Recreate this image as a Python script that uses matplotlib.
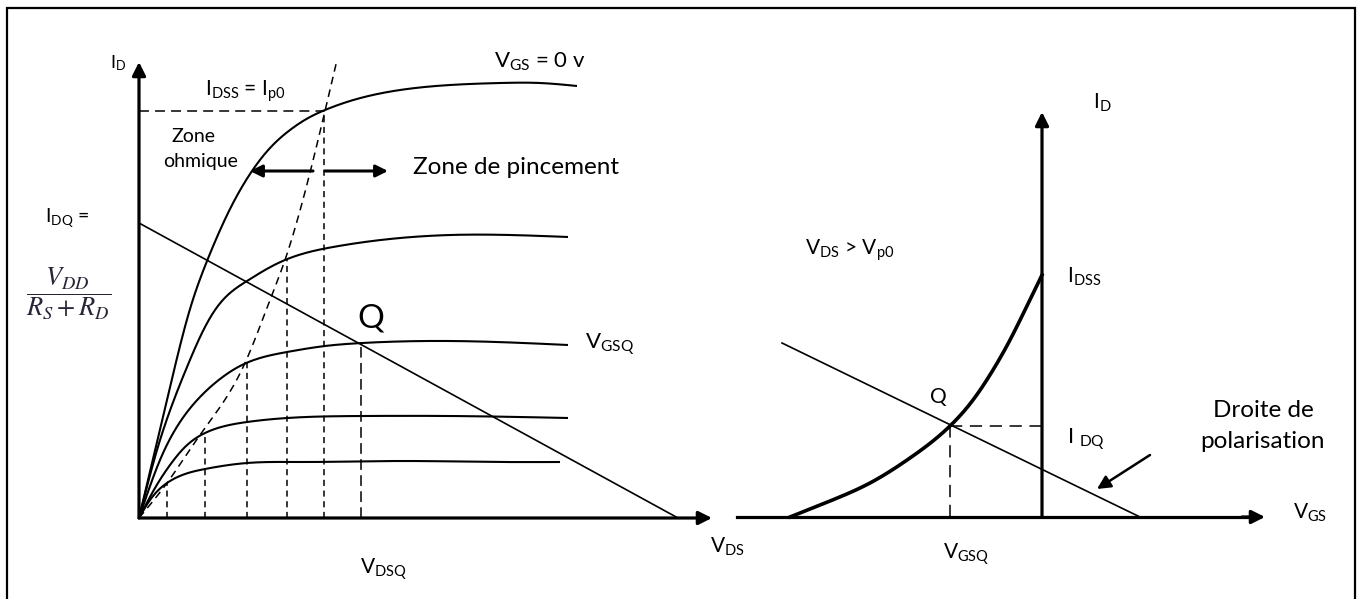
import numpy as np
import matplotlib
matplotlib.use("Agg")
import matplotlib.pyplot as plt
from matplotlib.patches import Rectangle

plt.rcParams['font.family'] = ['Lato', 'DejaVu Sans']
plt.rcParams['mathtext.fontset'] = 'custom'
plt.rcParams['mathtext.rm'] = 'Lato'
plt.rcParams['mathtext.it'] = 'Lato:italic'
plt.rcParams['mathtext.bf'] = 'Lato:bold'

# ---- output characteristics I_D(V_DS), one curve per V_GS (arbitrary units)
vds_c1 = [0, 2.8, 5.1, 6.8, 9.1, 11.3, 13.1, 15.1, 17.1, 18.6, 21.1, 26.1, 31.1,
          36.1, 40.1, 43.8]
id_c1 = [0, 11.8, 20.9, 25.7, 30.9, 34.7, 37.0, 38.8, 40.1, 40.8, 41.7, 42.8, 43.3,
         43.5, 43.5, 43.2]
vds_c2 = [0, 1.8, 3.3, 4.8, 6.2, 7.6, 9.1, 10.8, 12.6, 14.6, 19.4, 26.1, 31.1, 37.1, 42.9]
id_c2 = [0, 6.8, 11.3, 15.1, 18.3, 20.8, 22.5, 23.7, 24.8, 25.8, 27.1, 28.0, 28.3, 28.3, 28.1]
vds_c3 = [0, 2.1, 4.1, 6.1, 8.1, 10.1, 14.8, 18.6, 22.3, 31.1, 42.9]
id_c3 = [0, 5.8, 9.6, 12.1, 13.9, 15.2, 16.6, 17.2, 17.5, 17.7, 17.3]
vds_c4 = [0, 1.6, 3.1, 4.6, 6.6, 8.6, 10.8, 14.8, 22.3, 31.1, 42.9]
id_c4 = [0, 3.0, 5.3, 7.1, 8.5, 9.2, 9.6, 10.0, 10.2, 10.2, 10.0]
vds_c5 = [0, 1.1, 2.8, 4.6, 6.6, 10.8, 16.1, 26.1, 36.1, 42.1]
id_c5 = [0, 1.8, 3.5, 4.4, 4.9, 5.5, 5.6, 5.7, 5.6, 5.6]

# pinch-off locus V_DS = V_GS - V_p
vds_pinch = [0, 2.8, 6.1, 10.6, 13.1, 14.6, 18.6, 19.8]
id_pinch = [0, 3.5, 8.3, 15.5, 21.8, 25.8, 40.7, 45.8]

# drop lines from each knee and from Q
vds_knee = [2.8, 6.6, 10.8, 14.8, 18.5]
id_knee = [3.5, 8.5, 15.5, 25.8, 40.7]
vdsq, idq = 22.2, 17.5
idss = 40.7

# load line: I_D = V_DD/(R_S+R_D) at V_DS = 0, V_DS = V_DD at I_D = 0
load_vds = [0, 53.9]
load_id = [29.5, 0]

# ---- transfer characteristic I_D(V_GS)
vgs_tr = [-25.2, -21.2, -17.2, -13.2, -9.2, -6.9, -4.9, -3.2, -1.7, 0]
id_tr = [0, 1.6, 3.4, 5.9, 9.1, 11.7, 14.7, 17.7, 20.7, 24.2]
bias_vgs = [-26.0, 9.8]
bias_id = [17.4, 0]
vgsq, idq_r = -9.2, 9.1


def smooth(x, y, n=400):
    # natural cubic spline through the points, used only to draw the line
    x = np.asarray(x, float)
    y = np.asarray(y, float)
    N = len(x)
    h = np.diff(x)
    A = np.zeros((N, N))
    r = np.zeros(N)
    A[0, 0] = A[-1, -1] = 1
    for i in range(1, N - 1):
        A[i, i - 1] = h[i - 1]
        A[i, i] = 2 * (h[i - 1] + h[i])
        A[i, i + 1] = h[i]
        r[i] = 6 * ((y[i + 1] - y[i]) / h[i] - (y[i] - y[i - 1]) / h[i - 1])
    M = np.linalg.solve(A, r)
    xs = np.linspace(x[0], x[-1], n)
    k = np.clip(np.searchsorted(x, xs, 'right') - 1, 0, N - 2)
    hk = h[k]
    a = x[k + 1] - xs
    b = xs - x[k]
    ys = (M[k] * a ** 3 + M[k + 1] * b ** 3) / (6 * hk) \
        + (y[k] / hk - M[k] * hk / 6) * a + (y[k + 1] / hk - M[k + 1] * hk / 6) * b
    return xs, ys


def arrow(ax, start, tip, lw=2.2, ms=20):
    ax.annotate('', xy=tip, xytext=start,
                arrowprops=dict(arrowstyle='-|>', lw=lw, color='black',
                                mutation_scale=ms, shrinkA=0, shrinkB=0))


fig = plt.figure(figsize=(13.63, 5.99), dpi=100)
fig.patch.set_facecolor('white')

axl = fig.add_axes([0, 0, 1, 1])
axl.set_xlim(-13.9, 122.4)
axl.set_ylim(-8.1, 51.8)
axl.axis('off')

axr = fig.add_axes([0, 0, 1, 1])
axr.set_xlim(-104.2, 32.1)
axr.set_ylim(-8.2, 51.7)
axr.axis('off')
axr.patch.set_alpha(0)

fig.add_artist(Rectangle((7 / 1363, -0.05), 1348 / 1363, 1.05 - 8 / 599,
                         transform=fig.transFigure, fill=False, lw=1.6,
                         edgecolor='black'))

# ---------- left: output characteristics
arrow(axl, (0, 0), (57.3, 0), lw=2.3)
arrow(axl, (0, 0), (0, 45.6), lw=2.3)

for xs, ys in [(vds_c1, id_c1), (vds_c2, id_c2), (vds_c3, id_c3),
               (vds_c4, id_c4), (vds_c5, id_c5)]:
    sx, sy = smooth(xs, ys)
    axl.plot(sx, sy, color='black', lw=1.5, solid_capstyle='butt')

px, py = smooth(vds_pinch, id_pinch)
axl.plot(px, py, color='black', lw=1.1, ls=(0, (5, 3.5)))

for x, y in zip(vds_knee, id_knee):
    axl.plot([x, x], [0, y], color='black', lw=1.1, ls=(0, (4, 3)))
axl.plot([vdsq, vdsq], [0, idq], color='black', lw=1.1, ls=(0, (7, 3.5)))
axl.plot([0, vds_knee[-1]], [idss, idss], color='black', lw=1.1, ls=(0, (6.5, 4)))

axl.plot(load_vds, load_id, color='black', lw=1.2)

arrow(axl, (17.4, 34.7), (11.1, 34.7), lw=2.2, ms=18)
arrow(axl, (18.6, 34.7), (24.9, 34.7), lw=2.2, ms=18)

axl.text(-2.1, 45.5, r'I$_{\mathrm{D}}$', fontsize=13, ha='center', va='center')
axl.text(10.6, 42.7, r'I$_{\mathrm{DSS}}$ = I$_{\mathrm{p0}}$', fontsize=15,
         ha='center', va='center')
axl.text(5.4, 38.1, 'Zone', fontsize=14, ha='center', va='center')
axl.text(6.2, 35.6, 'ohmique', fontsize=14, ha='center', va='center')
axl.text(27.4, 35.1, 'Zone de pincement', fontsize=17.5, ha='left', va='center')
axl.text(40.1, 45.6, r'V$_{\mathrm{GS}}$ = 0 v', fontsize=16, ha='center', va='center')
axl.text(-7.2, 30.0, r'I$_{\mathrm{DQ}}$ =', fontsize=14, ha='center', va='center')
axl.text(-7.0, 22.4, r'$\dfrac{V_{DD}}{R_S+R_D}$', fontsize=19, ha='center',
         va='center', color='#262638', math_fontfamily='stix')
axl.text(23.2, 20.0, 'Q', fontsize=24, ha='center', va='center')
axl.text(44.6, 17.3, r'V$_{\mathrm{GSQ}}$', fontsize=16, ha='left', va='center')
axl.text(58.8, -2.9, r'V$_{\mathrm{DS}}$', fontsize=15, ha='center', va='center')
axl.text(24.4, -5.2, r'V$_{\mathrm{DSQ}}$', fontsize=15, ha='center', va='center')

# ---------- right: transfer characteristic
axr.plot([-30.5, 21.0], [0, 0], color='black', lw=2.3)
arrow(axr, (20.0, 0), (22.3, 0), lw=2.3)
arrow(axr, (0, 0), (0, 40.5), lw=2.3)

tx, ty = smooth(vgs_tr, id_tr)
axr.plot(tx, ty, color='black', lw=2.6)
axr.plot(bias_vgs, bias_id, color='black', lw=1.2)
axr.plot([vgsq, 0], [idq_r, idq_r], color='black', lw=1.1, ls=(0, (8, 5)))
axr.plot([vgsq, vgsq], [0, idq_r], color='black', lw=1.1, ls=(0, (8, 5)))
arrow(axr, (10.8, 6.2), (5.5, 2.8), lw=1.8, ms=20)

axr.text(6.0, 41.4, r'I$_{\mathrm{D}}$', fontsize=15, ha='center', va='center')
axr.text(-23.7, 26.7, r'V$_{\mathrm{DS}}$ > V$_{\mathrm{p0}}$', fontsize=15,
         ha='left', va='center')
axr.text(2.5, 24.0, r'I$_{\mathrm{DSS}}$', fontsize=15, ha='left', va='center')
axr.text(-10.4, 12.0, 'Q', fontsize=15, ha='center', va='center')
axr.text(4.4, 7.7, r'I $_{\mathrm{DQ}}$', fontsize=16, ha='center', va='center')
axr.text(22.1, 9.1, 'Droite de\npolarisation', fontsize=17.5, ha='center',
         va='center', linespacing=1.55)
axr.text(26.8, 0.4, r'V$_{\mathrm{GS}}$', fontsize=15, ha='center', va='center')
axr.text(-7.6, -3.8, r'V$_{\mathrm{GSQ}}$', fontsize=15, ha='center', va='center')

fig.savefig('out.png', dpi=100, facecolor='white')
